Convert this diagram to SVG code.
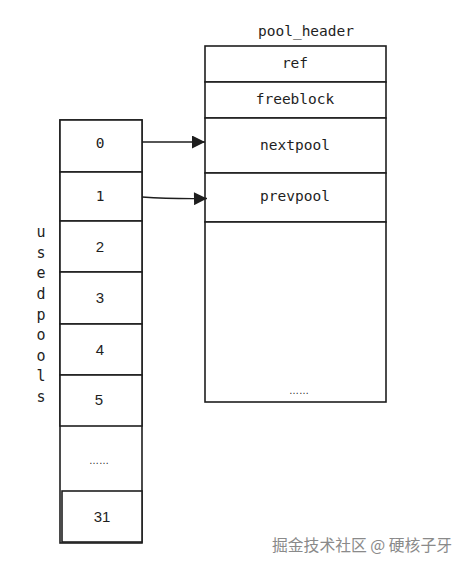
<svg xmlns="http://www.w3.org/2000/svg" width="466" height="568" viewBox="0 0 466 568">
<style>
.box{fill:#fff;stroke:#1e1e1e;stroke-width:1.6}
.m{font-family:"DejaVu Sans Mono","Liberation Mono",monospace;font-size:14.5px;fill:#1e1e1e;text-anchor:middle}
.s{font-family:"Liberation Sans",Arial,sans-serif;font-size:15px;fill:#1e1e1e;text-anchor:middle}
.v{font-family:"DejaVu Sans Mono","Liberation Mono",monospace;font-size:15px;fill:#1e1e1e;text-anchor:middle}
.c{fill:none;stroke:#1e1e1e;stroke-width:1.3}
</style>
<defs>
<marker id="ah" viewBox="0 0 10 10" refX="10" refY="5" markerWidth="16" markerHeight="13" markerUnits="userSpaceOnUse" orient="auto">
<path d="M0,0 L10,5 L0,10 Z" fill="#1e1e1e"/>
</marker>
</defs>
<rect width="466" height="568" fill="#fff"/>
<text class="m" x="306" y="36">pool_header</text>
<g id="pool_header">
<rect id="n-ref" class="box" x="205" y="46" width="181" height="36"/>
<text class="m" x="295" y="68">ref</text>
<rect id="n-freeblock" class="box" x="205" y="82" width="181" height="36"/>
<text class="m" x="295" y="104">freeblock</text>
<g id="n-nextpool"><rect class="box" x="205" y="118" width="181" height="55"/>
<text class="m" x="295" y="150">nextpool</text></g>
<g id="n-prevpool"><rect class="box" x="205" y="173" width="181" height="49"/>
<text class="m" x="295" y="201">prevpool</text></g>
<g id="n-pool-body"><rect class="box" x="205" y="222" width="181" height="180"/>
<text class="s" x="299" y="394" style="font-size:10px">……</text></g>
</g>
<g id="usedpools">
<rect class="box" x="60" y="120" width="82" height="423"/>
<g id="u0"><rect class="box" x="60" y="120" width="82" height="52"/><text class="m" x="100" y="148">0</text></g>
<g id="u1"><rect class="box" x="60" y="172" width="82" height="49"/><text class="m" x="100" y="201">1</text></g>
<g id="u2"><rect class="box" x="60" y="221" width="82" height="51"/><text class="s" x="100" y="252">2</text></g>
<g id="u3"><rect class="box" x="60" y="272" width="82" height="52"/><text class="s" x="100" y="303">3</text></g>
<g id="u4"><rect class="box" x="60" y="324" width="82" height="51"/><text class="s" x="100" y="355">4</text></g>
<g id="u5"><rect class="box" x="60" y="375" width="82" height="51"/><text class="s" x="99" y="405">5</text></g>
<g id="udots"><text class="s" x="99" y="464" style="font-size:10px">……</text></g>
<g id="u31"><rect class="box" x="62" y="491" width="80" height="51"/><text class="s" x="102" y="522">31</text></g>
</g>
<g id="label-usedpools">
<text class="v" x="41" y="237">u</text>
<text class="v" x="41" y="258">s</text>
<text class="v" x="41" y="278">e</text>
<text class="v" x="41" y="299">d</text>
<text class="v" x="41" y="320">p</text>
<text class="v" x="41" y="340">o</text>
<text class="v" x="41" y="361">o</text>
<text class="v" x="41" y="381">l</text>
<text class="v" x="41" y="402">s</text>
</g>
<g id="connectors">
<path class="c" d="M142,142 L205,142" marker-end="url(#ah)"/>
<path class="c" d="M142,197 Q170,199 207,198.5" marker-end="url(#ah)"/>
</g>
<text x="272" y="551" style="font-family:'Noto Sans CJK SC',sans-serif;font-size:15.8px;fill:#8a8a8a">掘金技术社区 @ 硬核子牙</text>
</svg>
